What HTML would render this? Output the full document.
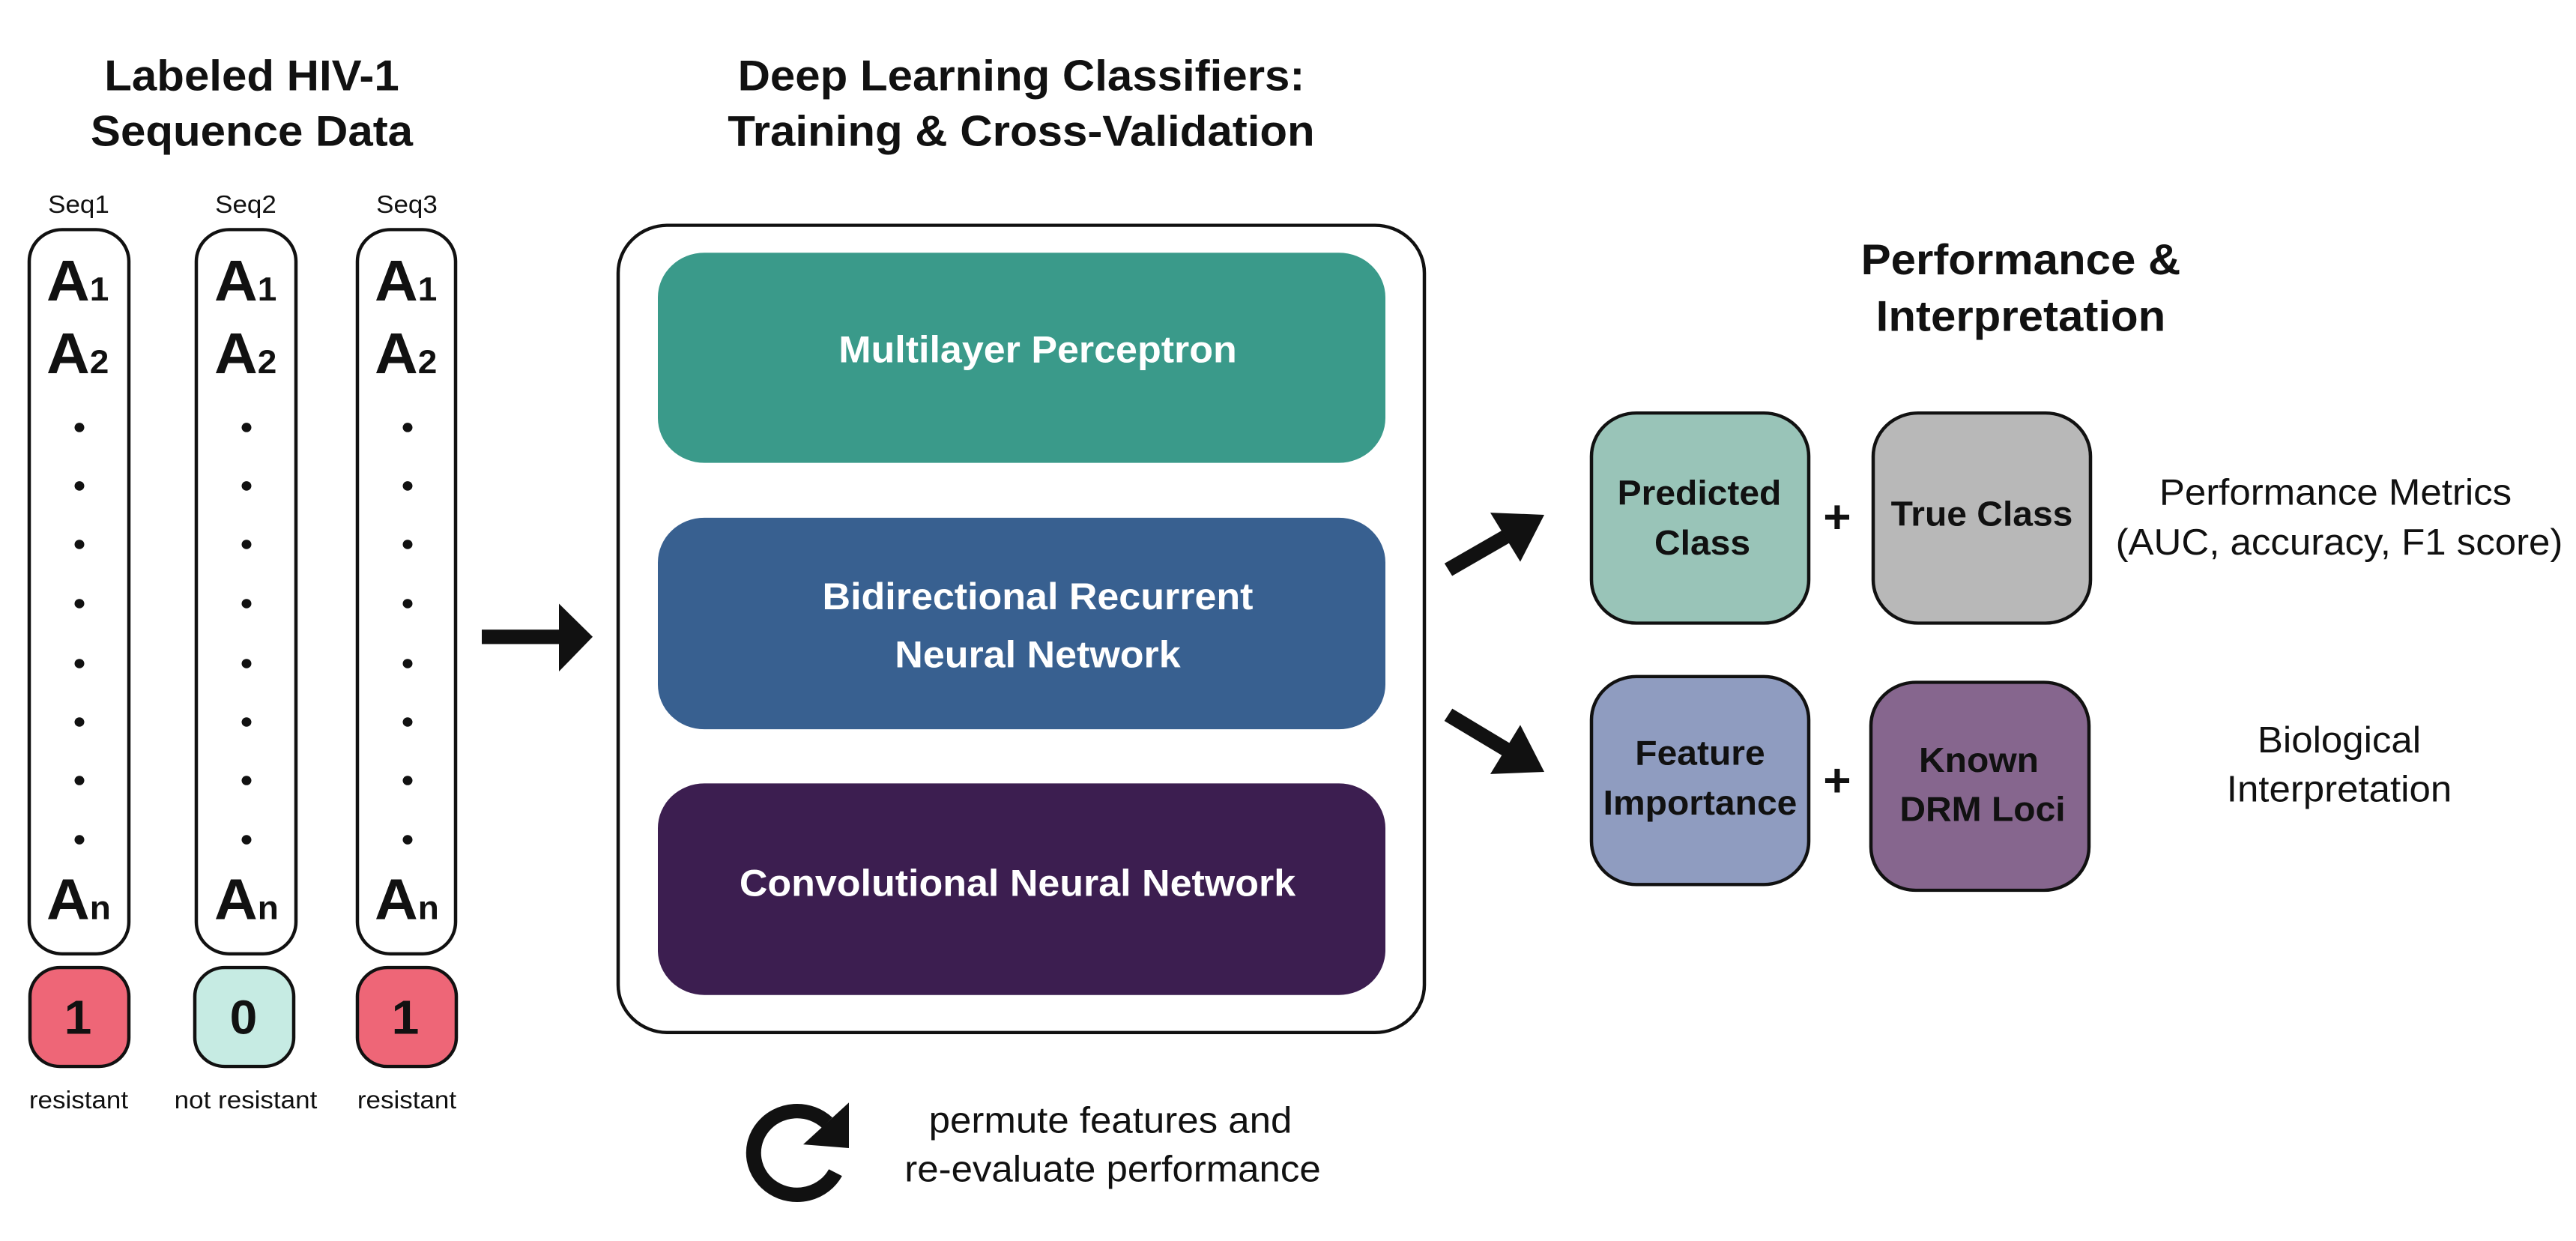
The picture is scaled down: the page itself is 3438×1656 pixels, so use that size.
<!DOCTYPE html>
<html><head><meta charset="utf-8"><style>html,body{margin:0;padding:0;background:#fff}svg{display:block}</style></head>
<body>
<svg width="3438" height="1656" viewBox="0 0 3438 1656" xmlns="http://www.w3.org/2000/svg" font-family="Liberation Sans, sans-serif">
<rect width="3438" height="1656" fill="#fff"/>
<g transform="scale(1,0.9635)">
<g font-weight="bold" font-size="60" text-anchor="middle" fill="#111">
<text x="336" y="125">Labeled HIV-1</text>
<text x="336" y="202">Sequence Data</text>
<text x="1363" y="125">Deep Learning Classifiers:</text>
<text x="1363" y="202">Training &amp; Cross-Validation</text>
<text x="2697" y="380">Performance &amp;</text>
<text x="2697" y="458">Interpretation</text>
</g>
<g font-size="35" text-anchor="middle" fill="#111">
<text x="105" y="295">Seq1</text><text x="328" y="295">Seq2</text><text x="543" y="295">Seq3</text>
<text x="105" y="1535">resistant</text><text x="328" y="1535">not resistant</text><text x="543" y="1535">resistant</text>
</g>
<g fill="#fff" stroke="#111" stroke-width="4.5">
<rect x="39" y="318" width="133" height="1003" rx="44"/>
<rect x="262" y="318" width="133" height="1003" rx="44"/>
<rect x="477" y="318" width="131" height="1003" rx="44"/>
</g>
<g stroke="#111" stroke-width="4.5">
<rect x="40" y="1340" width="132" height="137" rx="40" fill="#ee6677"/>
<rect x="260" y="1340" width="132" height="137" rx="40" fill="#c6ebe3"/>
<rect x="477" y="1340" width="132" height="137" rx="40" fill="#ee6677"/>
</g>
<g font-weight="bold" font-size="66" text-anchor="middle" fill="#111">
<text x="104" y="1432">1</text><text x="325" y="1432">0</text><text x="541" y="1432">1</text>
</g>
<g font-weight="bold" font-size="80" fill="#111">
<text x="62" y="416">A<tspan font-size="46">1</tspan></text>
<text x="62" y="517">A<tspan font-size="46">2</tspan></text>
<text x="62" y="1273">A<tspan font-size="46">n</tspan></text>
<text x="286" y="416">A<tspan font-size="46">1</tspan></text>
<text x="286" y="517">A<tspan font-size="46">2</tspan></text>
<text x="286" y="1273">A<tspan font-size="46">n</tspan></text>
<text x="500" y="416">A<tspan font-size="46">1</tspan></text>
<text x="500" y="517">A<tspan font-size="46">2</tspan></text>
<text x="500" y="1273">A<tspan font-size="46">n</tspan></text>
</g>
<g fill="#111">
<g id="d"><circle cx="106" cy="592" r="6.5"/><circle cx="106" cy="673" r="6.5"/><circle cx="106" cy="754" r="6.5"/><circle cx="106" cy="836" r="6.5"/><circle cx="106" cy="919" r="6.5"/><circle cx="106" cy="1000" r="6.5"/><circle cx="106" cy="1081" r="6.5"/><circle cx="106" cy="1163" r="6.5"/></g>
<use href="#d" x="223"/><use href="#d" x="438"/>
</g>
<rect x="643" y="872" width="108" height="20" fill="#111"/>
<polygon points="746,836 791,882 746,930" fill="#111"/>
<rect x="825" y="312" width="1076" height="1118" rx="66" fill="#fff" stroke="#111" stroke-width="4.5"/>
<rect x="878" y="350" width="971" height="291" rx="62" fill="#3a9a8a"/>
<rect x="878" y="717" width="971" height="293" rx="62" fill="#386090"/>
<rect x="878" y="1085" width="971" height="293" rx="62" fill="#3c1e50"/>
<g font-weight="bold" font-size="52" text-anchor="middle" fill="#fff">
<text x="1385" y="502">Multilayer Perceptron</text>
<text x="1385" y="844">Bidirectional Recurrent</text>
<text x="1385" y="924">Neural Network</text>
<text x="1358" y="1241">Convolutional Neural Network</text>
</g>
<path d="M1104,1555 A58,58 0 1 0 1115,1624" fill="none" stroke="#111" stroke-width="20"/>
<polygon points="1133,1527 1133,1590 1072,1585" fill="#111"/>
<g font-size="51" text-anchor="middle" fill="#111">
<text x="1482" y="1569">permute features and</text>
<text x="1485" y="1636">re-evaluate performance</text>
<text x="3117" y="699">Performance Metrics</text>
<text x="3122" y="768">(AUC, accuracy, F1 score)</text>
<text x="3122" y="1042">Biological</text>
<text x="3122" y="1110">Interpretation</text>
</g>
<line x1="1933" y1="789" x2="2015" y2="740" stroke="#111" stroke-width="20"/>
<polygon points="2061,713 2029,778 1989,710" fill="#111"/>
<line x1="1933" y1="990" x2="2015" y2="1041" stroke="#111" stroke-width="20"/>
<polygon points="2061,1069 1989,1072 2029,1004" fill="#111"/>
<g stroke="#111" stroke-width="4.5">
<rect x="2124" y="572" width="290" height="291" rx="60" fill="#99c4b8"/>
<rect x="2500" y="572" width="290" height="291" rx="60" fill="#b8b8b8"/>
<rect x="2124" y="937" width="290" height="288" rx="60" fill="#8f9cc0"/>
<rect x="2497" y="945" width="291" height="288" rx="60" fill="#86668e"/>
</g>
<g font-weight="bold" font-size="48" text-anchor="middle" fill="#111">
<text x="2268" y="699">Predicted</text><text x="2272" y="768">Class</text>
<text x="2645" y="728">True Class</text>
<text x="2269" y="1059">Feature</text><text x="2269" y="1128">Importance</text>
<text x="2641" y="1069">Known</text><text x="2646" y="1137">DRM Loci</text>
<text x="2452" y="738" font-size="64">+</text>
<text x="2452" y="1103" font-size="64">+</text>
</g>
</g>
</svg>
</body></html>
